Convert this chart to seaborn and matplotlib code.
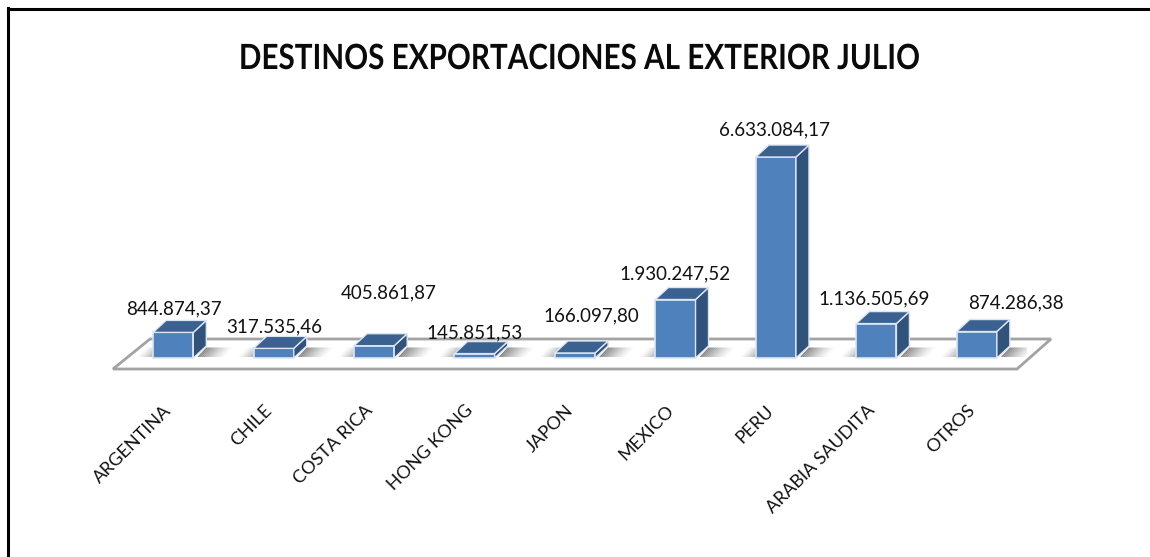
import matplotlib
matplotlib.use("Agg")
import matplotlib.pyplot as plt
from matplotlib.patheffects import AbstractPathEffect
from matplotlib.transforms import Affine2D, ScaledTranslation
import pandas as pd
import seaborn as sns

destinos = ["ARGENTINA", "CHILE", "COSTA RICA", "HONG KONG", "JAPON",
            "MEXICO", "PERU", "ARABIA SAUDITA", "OTROS"]
valores = [844874.37, 317535.46, 405861.87, 145851.53, 166097.80,
           1930247.52, 6633084.17, 1136505.69, 874286.38]
etiquetas = ["844.874,37", "317.535,46", "405.861,87", "145.851,53", "166.097,80",
             "1.930.247,52", "6.633.084,17", "1.136.505,69", "874.286,38"]
# Label placement relative to each bar's top front centre, in pixels
desfase_etiquetas = [(1, 24), (1, 22), (15, 53), (0, 21), (16, 37),
                     (0, 26), (-1, 27), (-2, 25), (39, 29)]

FRENTE, TAPA, LATERAL = "#4F81BD", "#3A618F", "#31527B"
BORDE = "#DCE6F2"
W, H = 1150, 557


class Condensar(AbstractPathEffect):
    """Narrows drawn text horizontally about a fixed screen x position."""

    def __init__(self, escala, centro):
        super().__init__()
        self.escala, self.centro = escala, centro

    def draw_path(self, renderer, gc, tpath, affine, rgbFace=None):
        ajuste = (Affine2D().translate(-self.centro, 0)
                  .scale(self.escala, 1).translate(self.centro, 0))
        renderer.draw_path(gc, tpath, affine + ajuste, rgbFace)


sns.set_theme(style="white")
plt.rcParams["font.family"] = ["Lato", "DejaVu Sans"]

fig = plt.figure(figsize=(W / 100, H / 100), dpi=100, facecolor="white")
ax = fig.add_axes([123 / W, 1 - 369 / H, 904 / W, 269 / H])

df = pd.DataFrame({"destino": destinos, "valor": valores})
sns.barplot(data=df, x="destino", y="valor", color=FRENTE, saturation=1, width=0.4,
            edgecolor=BORDE, linewidth=1.2, ax=ax, zorder=3)
ax.set_xlim(-0.5, 8.5)
ax.set_ylim(-363000, 8515000)
sns.despine(ax=ax, left=True, bottom=True)
ax.yaxis.set_visible(False)
ax.set_xlabel("")
ax.patch.set_visible(False)

# Data units per screen pixel, used to give the flat bars their oblique depth
ux = 9 / 904
uy = (8515000 + 363000) / 269
base_y = 0

# Floor slab under the bars, starting ahead of and to the left of the bar row
y_suelo = ax.get_ylim()[0]
suelo = [(-0.5 - 10 * ux, y_suelo), (8.5 - 10 * ux, y_suelo),
         (8.5 + 24 * ux, y_suelo + 30 * uy), (-0.5 + 27 * ux, y_suelo + 30 * uy)]
ax.fill(*zip(*suelo), facecolor="white", edgecolor="#A3A3A3", linewidth=2,
        zorder=1, clip_on=False)

prof_x, prof_y = 13 * ux, 12 * uy
for barra in ax.patches[:len(destinos)]:
    x0, ancho, alto = barra.get_x(), barra.get_width(), barra.get_height()
    x1 = x0 + ancho

    # Soft cast shadow on the floor: darkest beside the bar, fading outwards
    for i in range(14):
        t = i / 14
        for borde, signo, largo, fuerza in ((x1 + 4 * ux, 1, 27, 0.85), (x0, -1, 16, 0.6)):
            xa = borde + signo * t * largo * ux
            xb = xa + signo * largo / 14 * ux
            sh = 9 * ux
            ax.fill([xa, xb, xb + sh, xa + sh],
                    [base_y + 1 * uy, base_y + 1 * uy, base_y + 10.5 * uy, base_y + 10.5 * uy],
                    facecolor="#707070", alpha=fuerza * (1 - t) ** 1.4, linewidth=0, zorder=2)

    ax.fill([x1, x1 + prof_x, x1 + prof_x, x1],
            [base_y, base_y + prof_y, alto + prof_y, alto],
            facecolor=LATERAL, edgecolor=BORDE, linewidth=1, zorder=3.2, clip_on=False)
    ax.fill([x0, x1, x1 + prof_x, x0 + prof_x],
            [alto, alto, alto + prof_y, alto + prof_y],
            facecolor=TAPA, edgecolor=BORDE, linewidth=1, zorder=3.2, clip_on=False)

# Value labels
for barra, texto, (dx, dy) in zip(ax.patches, etiquetas, desfase_etiquetas):
    ax.annotate(texto, (barra.get_x() + barra.get_width() / 2, barra.get_height()),
                xytext=(dx * 0.72, dy * 0.72), textcoords="offset points",
                ha="center", va="center", fontsize=13.5, color="#111111",
                zorder=5, annotation_clip=False)

# Category labels, pulled back to line up with the front edge of the floor
ax.set_xticks(range(len(destinos)))
ax.set_xticklabels(destinos, rotation=45, ha="right", va="top",
                   rotation_mode="anchor", fontsize=13, color="#111111")
ax.tick_params(axis="x", length=0, pad=24)
desplazamiento = ScaledTranslation(-10 / 100, 0, fig.dpi_scale_trans)
for rotulo in ax.get_xticklabels():
    rotulo.set_transform(rotulo.get_transform() + desplazamiento)

titulo = fig.text(580 / W, 1 - 59 / H, "DESTINOS EXPORTACIONES AL EXTERIOR JULIO",
                  ha="center", va="center", fontsize=25, fontweight="bold", color="#0A0A0A")
titulo.set_path_effects([Condensar(0.854, 580)])

# Frame on the top and left edges
fig.add_artist(plt.Line2D([7.5 / W, 7.5 / W], [0, 1 - 8 / H], color="black", linewidth=2.2,
                          solid_capstyle="projecting"))
fig.add_artist(plt.Line2D([7.5 / W, 1], [1 - 9 / H, 1 - 9 / H], color="black", linewidth=2.2,
                          solid_capstyle="projecting"))

fig.savefig("out.png", dpi=100, facecolor="white")
